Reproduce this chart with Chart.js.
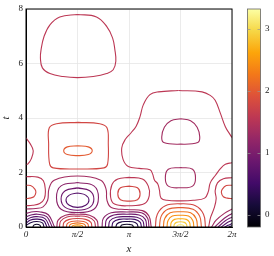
<!DOCTYPE html>
<html><head><meta charset="utf-8">
<script src="https://cdn.jsdelivr.net/npm/chart.js@4.4.0/dist/chart.umd.min.js"></script>
<style>html,body{margin:0;padding:0;background:#fff}#wrap{width:274px;height:256px}</style>
</head><body><div id="wrap"><canvas id="c" width="274" height="256"></canvas></div>
<script>
// ---- axes / colour range ----
const xTicks = [0, 1.5708, 3.1416, 4.7124, 6.2832];
const xTickLabels = ['0', 'π/2', 'π', '3π/2', '2π'];
const tTicks = [0, 2, 4, 6, 8];
const cbTicks = [0, 1, 2, 3];
const cbRange = [-0.2, 3.32];
const levels = [0.02, 0.24, 0.46, 0.68, 0.90, 1.12, 1.34, 1.56, 1.78, 2.00, 2.22, 2.44, 2.66, 2.88, 3.10];

// ---- contour polylines [x, t] ----
// upper part
const topLoop = [[1.57,7.80],[2.15,7.71],[2.46,7.36],[2.64,6.94],[2.71,6.51],[2.74,6.08],[2.66,5.77],[2.46,5.63],[2.05,5.52],[1.57,5.48],[1.13,5.52],[0.73,5.63],[0.50,5.84],[0.44,6.20],[0.46,6.51],[0.55,6.99],[0.73,7.42],[1.03,7.71],[1.57,7.80]];
const bigLoop = [[4.65,5.01],[5.37,4.96],[5.62,4.83],[5.77,4.65],[5.93,4.17],[6.08,3.68],[6.23,3.38],[6.29,3.27]];
const bigLoopWrap = [[0,3.27],[0.13,3.05],[0.22,2.80],[0.16,2.50],[0.06,2.32],[0,2.30]];
const bigLoopLower = [[6.29,2.36],[6.08,2.30],[5.93,2.14],[5.78,1.90],[5.62,1.62],[5.56,1.30],[5.45,1.06],[5.10,0.98],[4.72,0.96],[4.30,0.98],[4.12,1.06],[4.07,1.35],[4.02,1.58],[3.92,1.72],[3.86,1.95],[3.78,2.10],[3.45,2.15],[3.12,2.22],[2.96,2.48],[2.92,2.90],[3.02,3.20],[3.20,3.45],[3.36,3.70],[3.48,4.06],[3.58,4.49],[3.78,4.86],[4.04,4.96],[4.65,5.01]];
const squareLoop = [[1.59,3.84],[2.25,3.79],[2.47,3.64],[2.51,3.06],[2.49,2.32],[2.38,2.17],[1.59,2.13],[0.83,2.17],[0.72,2.32],[0.69,3.06],[0.71,3.64],[0.93,3.79],[1.59,3.84]];
const smallRedLoop = [[1.58,2.98],[1.90,2.94],[2.02,2.80],[1.90,2.66],[1.58,2.62],[1.26,2.66],[1.15,2.80],[1.26,2.94],[1.58,2.98]];
const upperPurpleLoop = [[4.72,3.97],[5.02,3.90],[5.22,3.66],[5.30,3.30],[5.24,3.10],[4.72,3.04],[4.20,3.10],[4.14,3.30],[4.22,3.66],[4.42,3.90],[4.72,3.97]];
// middle band
const lowerPurpleLoop = [[4.72,2.18],[5.08,2.12],[5.17,1.80],[5.08,1.50],[4.72,1.44],[4.34,1.50],[4.25,1.80],[4.34,2.12],[4.72,2.18]];
const zeroRedLoop = [[0,1.53],[0.14,1.52],[0.27,1.39],[0.30,1.26],[0.24,1.11],[0.11,1.06],[0,1.04]];
const twoPiRedLoop = [[6.29,1.53],[6.11,1.52],[5.99,1.39],[5.96,1.26],[6.02,1.11],[6.14,1.06],[6.29,1.04]];
const zeroCrimson = [[0,1.85],[0.36,1.83],[0.53,1.70],[0.59,1.37],[0.56,1.04],[0.42,0.86],[0.20,0.80],[0,0.78]];
const twoPiCrimson = [[6.29,1.81],[6.02,1.77],[5.84,1.62],[5.77,1.33],[5.80,1.04],[5.74,0.70],[5.63,0.35],[5.57,0]];
const piRedLoop = [[3.14,1.50],[3.40,1.44],[3.48,1.22],[3.40,1.00],[3.14,0.95],[2.88,1.00],[2.80,1.22],[2.88,1.44],[3.14,1.50]];
const piCrimson = [[3.14,1.82],[3.55,1.76],[3.73,1.50],[3.76,1.15],[3.62,0.86],[3.14,0.78],[2.70,0.84],[2.58,1.10],[2.62,1.55],[2.80,1.76],[3.14,1.82]];
const halfPiLoop068 = [[1.57,1.25],[1.82,1.17],[1.92,0.985],[1.82,0.80],[1.57,0.72],[1.32,0.80],[1.22,0.985],[1.32,1.17],[1.57,1.25]];
const halfPiLoop090 = [[1.57,1.435],[1.945,1.33],[2.07,1.025],[1.945,0.72],[1.57,0.615],[1.195,0.72],[1.07,1.025],[1.195,1.33],[1.57,1.435]];
const halfPiLoop112 = [[1.57,1.63],[2.07,1.51],[2.21,1.08],[2.07,0.65],[1.57,0.53],[1.07,0.65],[0.93,1.08],[1.07,1.51],[1.57,1.63]];
const halfPiW134 = [[0,0.66],[0.30,0.68],[0.52,0.74],[0.66,0.98],[0.70,1.40],[0.86,1.72],[1.57,1.87],[2.28,1.72],[2.44,1.40],[2.47,0.98],[2.60,0.72],[3.08,0.64],[3.55,0.60],[3.75,0.40],[3.82,0]];
const twoPiW134 = [[6.29,0.66],[6.05,0.50],[5.80,0.25],[5.66,0]];
// bottom: dark fans around x≈0.33 and x≈π
const fan0_002 = [[0.21,0],[0.24,0.07],[0.33,0.10],[0.42,0.07],[0.45,0]];
const fan0_024 = [[0,0.05],[0.14,0.16],[0.33,0.20],[0.50,0.15],[0.55,0]];
const fan0_046 = [[0,0.13],[0.12,0.25],[0.33,0.29],[0.54,0.23],[0.64,0]];
const fan0_068 = [[0,0.25],[0.15,0.35],[0.33,0.38],[0.58,0.31],[0.72,0]];
const fan0_090 = [[0,0.37],[0.18,0.45],[0.35,0.47],[0.63,0.38],[0.80,0]];
const fan0_112 = [[0,0.50],[0.22,0.56],[0.40,0.56],[0.68,0.45],[0.87,0]];
const fan2pi_024 = [[6.29,0.05],[6.18,0]];
const fan2pi_046 = [[6.29,0.13],[6.16,0.06],[6.06,0]];
const fan2pi_068 = [[6.29,0.25],[6.10,0.13],[5.96,0]];
const fan2pi_090 = [[6.29,0.37],[6.07,0.22],[5.86,0]];
const fan2pi_112 = [[6.29,0.50],[6.05,0.32],[5.76,0]];
const fanPi_002 = [[2.88,0],[2.92,0.07],[3.08,0.10],[3.24,0.07],[3.28,0]];
const fanPi_024 = [[2.74,0],[2.78,0.12],[2.92,0.19],[3.08,0.20],[3.26,0.19],[3.38,0.12],[3.42,0]];
const fanPi_046 = [[2.62,0],[2.66,0.18],[2.84,0.28],[3.08,0.29],[3.32,0.28],[3.48,0.18],[3.52,0]];
const fanPi_068 = [[2.52,0],[2.56,0.23],[2.76,0.36],[3.08,0.38],[3.38,0.36],[3.56,0.23],[3.60,0]];
const fanPi_090 = [[2.42,0],[2.46,0.28],[2.68,0.44],[3.08,0.47],[3.45,0.44],[3.64,0.28],[3.68,0]];
const fanPi_112 = [[2.32,0],[2.36,0.32],[2.60,0.52],[3.08,0.55],[3.52,0.52],[3.71,0.32],[3.75,0]];
// bottom: bright domes at π/2 and 3π/2
const dome1_134 = [[0.94,0],[0.98,0.25],[1.20,0.43],[1.57,0.47],[1.94,0.43],[2.16,0.25],[2.20,0]];
const dome1_156 = [[1.02,0],[1.06,0.22],[1.25,0.37],[1.57,0.40],[1.89,0.37],[2.08,0.22],[2.12,0]];
const dome1_178 = [[1.13,0],[1.16,0.17],[1.32,0.28],[1.57,0.31],[1.82,0.28],[1.98,0.17],[2.01,0]];
const dome1_200 = [[1.23,0],[1.26,0.12],[1.38,0.20],[1.57,0.22],[1.76,0.20],[1.88,0.12],[1.91,0]];
const dome1_222 = [[1.32,0],[1.34,0.08],[1.44,0.13],[1.57,0.15],[1.70,0.13],[1.80,0.08],[1.82,0]];
const dome1_244 = [[1.40,0],[1.42,0.05],[1.57,0.085],[1.72,0.05],[1.74,0]];
const dome1_266 = [[1.48,0],[1.50,0.025],[1.57,0.035],[1.64,0.025],[1.66,0]];
const dome3_178 = [[3.945,0],[4.006,0.47],[4.251,0.78],[4.71,0.85],[5.169,0.78],[5.414,0.47],[5.475,0]];
const dome3_200 = [[4.07,0],[4.121,0.39],[4.326,0.65],[4.71,0.71],[5.094,0.65],[5.299,0.39],[5.35,0]];
const dome3_222 = [[4.19,0],[4.232,0.31],[4.398,0.52],[4.71,0.56],[5.022,0.52],[5.188,0.31],[5.23,0]];
const dome3_244 = [[4.30,0],[4.333,0.24],[4.464,0.40],[4.71,0.43],[4.956,0.40],[5.087,0.24],[5.12,0]];
const dome3_266 = [[4.41,0],[4.434,0.17],[4.53,0.28],[4.71,0.30],[4.89,0.28],[4.986,0.17],[5.01,0]];
const dome3_288 = [[4.51,0],[4.526,0.10],[4.59,0.17],[4.71,0.19],[4.83,0.17],[4.894,0.10],[4.91,0]];
const dome3_310 = [[4.60,0],[4.609,0.044],[4.644,0.074],[4.71,0.08],[4.776,0.074],[4.811,0.044],[4.82,0]];

const contours = [
  [topLoop,1.56],[bigLoop,1.56],[bigLoopWrap,1.56],[bigLoopLower,1.56],[squareLoop,1.78],[smallRedLoop,2.00],
  [upperPurpleLoop,1.34],[lowerPurpleLoop,1.34],
  [zeroRedLoop,1.78],[twoPiRedLoop,1.78],[zeroCrimson,1.56],[twoPiCrimson,1.56],[piRedLoop,1.78],[piCrimson,1.56],
  [halfPiLoop068,0.68],[halfPiLoop090,0.90],[halfPiLoop112,1.12],[halfPiW134,1.34],[twoPiW134,1.34],
  [fan0_002,0.02],[fan0_024,0.24],[fan0_046,0.46],[fan0_068,0.68],[fan0_090,0.90],[fan0_112,1.12],
  [fan2pi_024,0.24],[fan2pi_046,0.46],[fan2pi_068,0.68],[fan2pi_090,0.90],[fan2pi_112,1.12],
  [fanPi_002,0.02],[fanPi_024,0.24],[fanPi_046,0.46],[fanPi_068,0.68],[fanPi_090,0.90],[fanPi_112,1.12],
  [dome1_134,1.34],[dome1_156,1.56],[dome1_178,1.78],[dome1_200,2.00],[dome1_222,2.22],[dome1_244,2.44],[dome1_266,2.66],
  [dome3_178,1.78],[dome3_200,2.00],[dome3_222,2.22],[dome3_244,2.44],[dome3_266,2.66],[dome3_288,2.88],[dome3_310,3.10]
];

// ---- inferno colormap ----
const INF = [[0,0,4],[22,11,57],[66,10,104],[106,23,110],[147,38,103],[188,55,84],[221,81,58],[243,120,25],[252,165,10],[246,215,70],[252,255,164]];
function inferno(f){ f=Math.max(0,Math.min(1,f)); const p=f*10, i=Math.min(9,Math.floor(p)), r=p-i;
  const a=INF[i], b=INF[i+1]; return `rgb(${Math.round(a[0]+(b[0]-a[0])*r)},${Math.round(a[1]+(b[1]-a[1])*r)},${Math.round(a[2]+(b[2]-a[2])*r)})`; }
function levelColor(v){ return inferno((v-cbRange[0])/(cbRange[1]-cbRange[0])); }

const datasets = contours.map(([pts, level]) => ({
  data: pts.map(p => ({x:p[0], y:p[1]})),
  showLine: true, pointRadius: 0, borderWidth: 1.1, tension: 0.4,
  borderColor: levelColor(level), fill: false, yAxisID: 'y'
}));

const serif = '"Liberation Serif", "DejaVu Serif", serif';

const frame = {
  id: 'frame',
  afterDatasetsDraw(chart){
    const {ctx, chartArea:a, scales} = chart;
    ctx.save();
    ctx.strokeStyle = '#000'; ctx.lineWidth = 1;
    ctx.strokeRect(a.left, a.top, a.right-a.left, a.bottom-a.top);
    const cb = scales.cb;
    const x0 = 247.5, x1 = 260.5;
    const yTop = cb.getPixelForValue(cbRange[1]), yBot = cb.getPixelForValue(cbRange[0]);
    const g = ctx.createLinearGradient(0, yBot, 0, yTop);
    for (let i=0;i<=20;i++) g.addColorStop(i/20, inferno(i/20));
    ctx.fillStyle = g; ctx.fillRect(x0, yTop, x1-x0, yBot-yTop);
    ctx.strokeStyle = '#666'; ctx.lineWidth = 0.8; ctx.strokeRect(x0, yTop, x1-x0, yBot-yTop);
    ctx.strokeStyle = 'rgba(150,150,150,0.9)'; ctx.lineWidth = 0.8;
    for (const v of cbTicks){ const y = Math.round(cb.getPixelForValue(v))+0.5;
      ctx.beginPath(); ctx.moveTo(x0, y); ctx.lineTo(x0+3, y); ctx.moveTo(x1-3, y); ctx.lineTo(x1, y); ctx.stroke(); }
    ctx.restore();
  }
};

new Chart(document.getElementById('c'), {
  type: 'scatter',
  data: { datasets },
  options: {
    responsive: false, animation: false, devicePixelRatio: 1,
    layout: { padding: { top: 9, left: 0, right: 0, bottom: 0 } },
    plugins: { legend: {display:false}, tooltip: {enabled:false} },
    scales: {
      x: { type: 'linear', min: 0, max: 6.2832,
        afterBuildTicks: s => { s.ticks = xTicks.map(v => ({value: v})); },
        ticks: { callback: (v, i) => xTickLabels[i], font: {family: serif, size: 9, style: 'italic'}, color: '#222', padding: 2, maxRotation: 0, autoSkip: false },
        grid: { color: '#e6e6e6', lineWidth: 0.8, drawTicks: false },
        border: { color: '#000', width: 1 },
        title: { display: true, text: 'x', font: {family: serif, size: 11, style: 'italic'}, color: '#222', padding: {top: 2, bottom: 0} },
        afterFit: s => { s.height = 29; }
      },
      y: { type: 'linear', position: 'left', min: 0, max: 8,
        afterBuildTicks: s => { s.ticks = tTicks.map(v => ({value: v})); },
        ticks: { font: {family: serif, size: 9}, color: '#222', padding: 3 },
        grid: { color: '#e6e6e6', lineWidth: 0.8, drawTicks: false },
        border: { color: '#000', width: 1 },
        title: { display: true, text: 't', font: {family: serif, size: 11, style: 'italic'}, color: '#222', padding: 0 },
        afterFit: s => { s.width = 26; }
      },
      cb: { type: 'linear', position: 'right', min: cbRange[0], max: cbRange[1],
        afterBuildTicks: s => { s.ticks = cbTicks.map(v => ({value: v})); },
        ticks: { font: {family: serif, size: 9}, color: '#222', padding: 2 },
        grid: { display: true, drawOnChartArea: false, drawTicks: true, tickLength: 31, color: 'rgba(0,0,0,0)' },
        border: { display: false },
        afterFit: s => { s.width = 42; }
      }
    }
  },
  plugins: [frame]
});
</script></body></html>
